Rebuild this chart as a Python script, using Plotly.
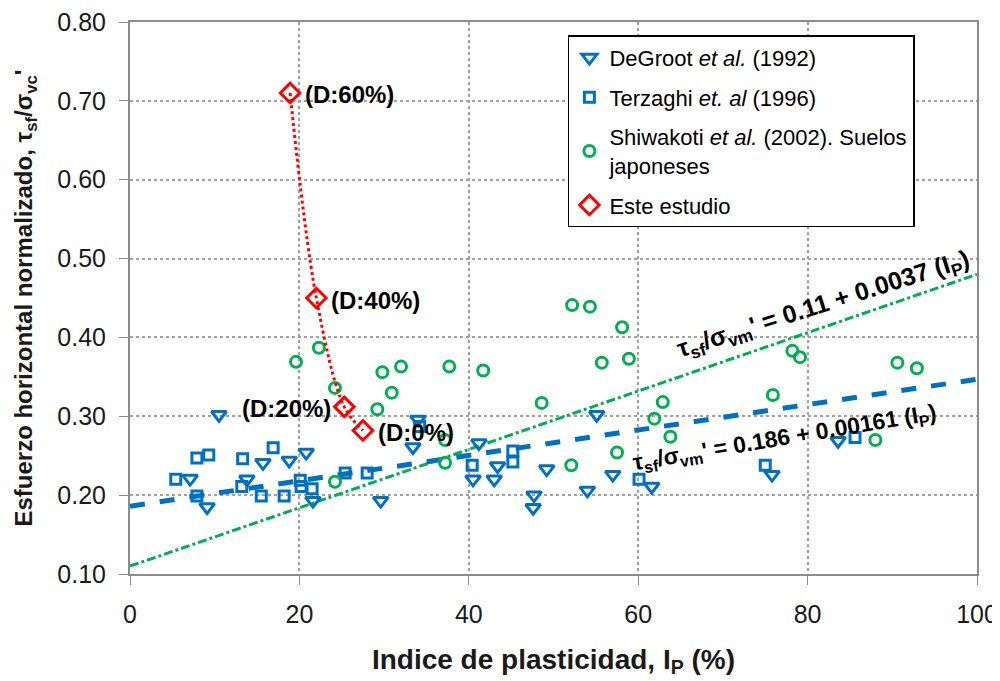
import plotly.graph_objects as go


# ==========================================================
# Data
# ==========================================================

degroot_ip = [10.5, 7.1, 9.1, 15.7, 13.8, 18.8, 20.8, 21.6, 34.0, 33.4, 29.6,
              41.2, 40.5, 43.0, 43.4, 55.1, 49.2, 47.7, 47.6, 54.0, 57.0,
              61.6, 83.6, 75.8]
degroot_tau = [0.302, 0.221, 0.185, 0.241, 0.220, 0.244, 0.254, 0.193, 0.296,
               0.261, 0.193, 0.266, 0.220, 0.220, 0.237, 0.302, 0.233, 0.200,
               0.184, 0.206, 0.226, 0.211, 0.269, 0.226]

terzaghi_ip = [5.4, 7.9, 9.3, 7.9, 13.3, 16.9, 13.2, 15.5, 18.2, 20.2, 21.5,
               20.1, 25.4, 28.0, 40.4, 45.2, 45.2, 34.2, 60.1, 75.0, 85.6]
terzaghi_tau = [0.220, 0.247, 0.251, 0.199, 0.246, 0.260, 0.211, 0.199, 0.199,
                0.211, 0.208, 0.219, 0.228, 0.228, 0.238, 0.242, 0.256, 0.287,
                0.220, 0.238, 0.273]

shiwakoti_ip = [19.6, 22.3, 24.2, 29.8, 32.0, 30.9, 29.2, 37.7, 37.2, 41.7,
                37.2, 24.2, 52.2, 54.3, 58.1, 55.7, 58.9, 48.6, 62.9, 61.9,
                63.8, 57.5, 52.1, 78.2, 79.1, 75.9, 90.6, 92.9, 88.0]
shiwakoti_tau = [0.369, 0.387, 0.336, 0.356, 0.363, 0.330, 0.309, 0.363, 0.270,
                 0.358, 0.241, 0.217, 0.441, 0.439, 0.413, 0.368, 0.373, 0.317,
                 0.318, 0.297, 0.274, 0.254, 0.238, 0.383, 0.375, 0.327, 0.368,
                 0.361, 0.270]

estudio_ip = [18.9, 22.0, 25.3, 27.5]
estudio_tau = [0.710, 0.450, 0.312, 0.282]
estudio_labels = ["(D:60%)", "(D:40%)", "(D:20%)", "(D:0%)"]
estudio_label_side = ["right", "right", "left", "right"]

# trend lines:  tau = a + b * Ip
ip_range = [0, 100]
fit_all = (0.186, 0.00161)
fit_shiwakoti = (0.11, 0.0037)

BLUE = "#0070C0"
GREEN = "#00B050"
RED = "#FF0000"
FONT = "Liberation Sans, Arial, sans-serif"


# ==========================================================
# Figure
# ==========================================================

fig = go.Figure()

fig.add_trace(
    go.Scatter(
        x=ip_range,
        y=[fit_shiwakoti[0] + fit_shiwakoti[1] * v for v in ip_range],
        mode="lines",
        line=dict(color=GREEN, width=3, dash="dashdot"),
        showlegend=False,
        hoverinfo="skip"
    )
)

fig.add_trace(
    go.Scatter(
        x=ip_range,
        y=[fit_all[0] + fit_all[1] * v for v in ip_range],
        mode="lines",
        line=dict(color=BLUE, width=5, dash="dash"),
        showlegend=False,
        hoverinfo="skip"
    )
)

fig.add_trace(
    go.Scatter(
        x=degroot_ip,
        y=degroot_tau,
        mode="markers",
        name="DeGroot <i>et al.</i> (1992)",
        legendgroup="a",
        marker=dict(symbol="triangle-down-open", size=13, color=BLUE,
                    line=dict(width=3, color=BLUE))
    )
)

fig.add_trace(
    go.Scatter(
        x=terzaghi_ip,
        y=terzaghi_tau,
        mode="markers",
        name="Terzaghi <i>et. al</i> (1996)",
        legendgroup="b",
        marker=dict(symbol="square-open", size=10, color=BLUE,
                    line=dict(width=3, color=BLUE))
    )
)

fig.add_trace(
    go.Scatter(
        x=shiwakoti_ip,
        y=shiwakoti_tau,
        mode="markers",
        name="Shiwakoti <i>et al.</i> (2002). Suelos<br>japoneses",
        legendgroup="c",
        marker=dict(symbol="circle-open", size=11, color=GREEN,
                    line=dict(width=3, color=GREEN))
    )
)

fig.add_trace(
    go.Scatter(
        x=estudio_ip,
        y=estudio_tau,
        mode="lines",
        line=dict(color=RED, width=3, dash="dot", shape="spline"),
        showlegend=False,
        hoverinfo="skip"
    )
)

fig.add_trace(
    go.Scatter(
        x=estudio_ip,
        y=estudio_tau,
        mode="markers",
        name="Este estudio",
        legendgroup="d",
        marker=dict(symbol="diamond-open", size=15, color=RED,
                    line=dict(width=3, color=RED))
    )
)

# (D:xx%) labels next to the red points
for xv, yv, lab, side in zip(estudio_ip, estudio_tau, estudio_labels, estudio_label_side):
    fig.add_annotation(
        x=xv, y=yv, xref="x", yref="y",
        text="<b>%s</b>" % lab,
        showarrow=False,
        xanchor="left" if side == "right" else "right",
        xshift=13 if side == "right" else -11,
        yshift=-2,
        font=dict(size=24, color="black", family=FONT)
    )

# equation labels along the trend lines
fig.add_annotation(
    x=81.9, y=0.441, xref="x", yref="y",
    text="<b>τ<sub>sf</sub>/σ<sub>vm</sub>' = 0.11 + 0.0037 (I<sub>P</sub>)</b>",
    textangle=-17.5, showarrow=False,
    font=dict(size=25, color="black", family=FONT)
)

fig.add_annotation(
    x=77.3, y=0.272, xref="x", yref="y",
    text="<b>τ<sub>sf</sub>/σ<sub>vm</sub>' = 0.186 + 0.00161 (I<sub>P</sub>)</b>",
    textangle=-9.5, showarrow=False,
    font=dict(size=23, color="black", family=FONT)
)

axis_style = dict(
    showline=True,
    linecolor="#8c8c8c",
    linewidth=2,
    mirror=True,
    ticks="outside",
    ticklen=9,
    tickcolor="#8c8c8c",
    showgrid=True,
    gridcolor="#a0a0a0",
    gridwidth=1.5,
    griddash="dot",
    zeroline=False,
    automargin=False,
    ticklabeloverflow="allow",
    tickfont=dict(size=25, color="#1a1a1a", family=FONT)
)

fig.update_xaxes(
    range=[0, 100],
    dtick=20,
    ticklabelstandoff=8,
    title=dict(text="<b>Indice de plasticidad, I<sub>P</sub> (%)</b>",
               font=dict(size=28, color="#1a1a1a", family=FONT),
               standoff=22),
    **axis_style
)

fig.update_yaxes(
    range=[0.1, 0.8],
    dtick=0.1,
    tickformat=".2f",
    ticklabelstandoff=8,
    title=dict(text="<b>Esfuerzo horizontal normalizado, τ<sub>sf</sub>/σ<sub>vc</sub>'</b>",
               font=dict(size=24, color="#1a1a1a", family=FONT),
               standoff=18),
    **axis_style
)

# page has an 8px body margin, so the figure is a bit smaller than the window
fig.update_layout(
    width=992,
    height=673,
    plot_bgcolor="white",
    paper_bgcolor="white",
    font=dict(family=FONT, color="black"),
    margin=dict(l=122, r=23, t=14, b=107),
    legend=dict(
        x=0.517,
        y=0.976,
        xanchor="left",
        yanchor="top",
        bgcolor="white",
        bordercolor="black",
        borderwidth=1.5,
        traceorder="grouped",
        tracegroupgap=8,
        font=dict(size=22, color="black", family=FONT)
    )
)

fig.write_html("out.html")
